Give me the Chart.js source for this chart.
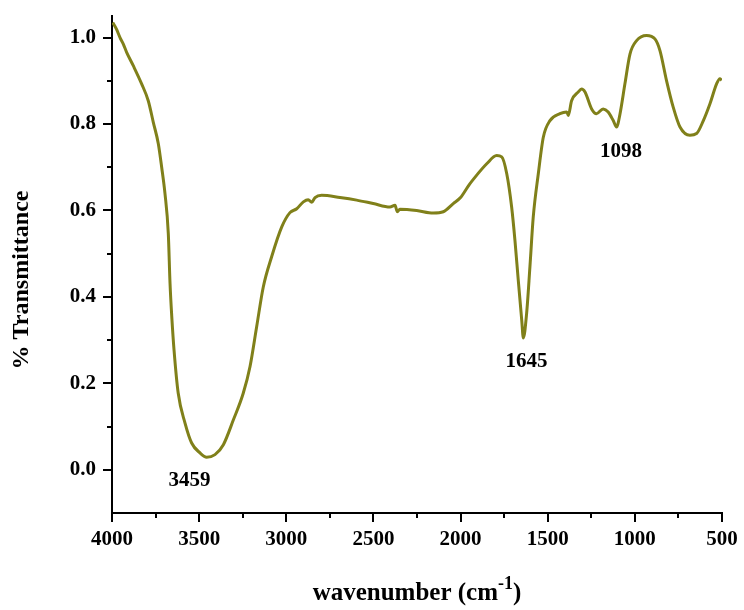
<!DOCTYPE html>
<html>
<head>
<meta charset="utf-8">
<script src="https://cdn.jsdelivr.net/npm/chart.js@4/dist/chart.umd.min.js"></script>
<style>
  body { margin: 0; background: #fff; }
  #wrap { width: 744px; height: 610px; }
</style>
</head>
<body>
<div id="wrap"><canvas id="ftir" width="744" height="610"></canvas></div>
<script>
// FTIR spectrum, values
const wavenumber = [
  3996, 3975, 3954, 3935, 3916, 3878, 3830, 3792, 3763, 3734, 3715, 3696,
  3677, 3667, 3657, 3644, 3620, 3581, 3543, 3495, 3457, 3409, 3361, 3304,
  3247, 3208, 3170, 3132, 3084, 3026, 2979, 2940, 2902, 2874, 2854, 2835,
  2797, 2692, 2596, 2501, 2405, 2376, 2363, 2348, 2252, 2157, 2099, 2042,
  2000, 1950, 1927, 1850, 1793, 1764, 1735, 1707, 1688, 1669, 1649, 1640,
  1621, 1602, 1583, 1554, 1525, 1487, 1430, 1391, 1382, 1363, 1325, 1306,
  1286, 1248, 1220, 1182, 1153, 1124, 1105, 1085, 1057, 1028, 990, 933,
  885, 856, 818, 780, 741, 684, 646, 607, 569, 531, 512, 502
];
const transmittance = [
  1.035, 1.020, 1.000, 0.985, 0.966, 0.935, 0.893, 0.854, 0.804, 0.754, 0.700, 0.639,
  0.547, 0.431, 0.354, 0.277, 0.177, 0.108, 0.062, 0.039, 0.029, 0.035, 0.058, 0.115,
  0.177, 0.239, 0.331, 0.423, 0.493, 0.562, 0.595, 0.604, 0.620, 0.625, 0.619, 0.630,
  0.635, 0.630, 0.624, 0.616, 0.608, 0.612, 0.597, 0.603, 0.600, 0.594, 0.597, 0.616,
  0.630, 0.660, 0.672, 0.708, 0.727, 0.724, 0.685, 0.608, 0.531, 0.439, 0.346, 0.305,
  0.362, 0.470, 0.585, 0.685, 0.770, 0.808, 0.824, 0.828, 0.820, 0.854, 0.874, 0.881,
  0.874, 0.835, 0.824, 0.835, 0.828, 0.808, 0.793, 0.824, 0.893, 0.962, 0.993, 1.005,
  0.997, 0.970, 0.900, 0.839, 0.793, 0.774, 0.778, 0.808, 0.847, 0.893, 0.905, 0.901
];

// tick values (labels only on the major ones)
const xTicks = [4000, 3750, 3500, 3250, 3000, 2750, 2500, 2250, 2000, 1750, 1500, 1250, 1000, 750, 500];
const yTicks = [0.0, 0.1, 0.2, 0.3, 0.4, 0.5, 0.6, 0.7, 0.8, 0.9, 1.0];

// peak labels (text, and where they sit in data units)
const peakLabels = ['3459', '1645', '1098'];
const peakLabelX = [3555, 1622, 1080];
const peakLabelY = [-0.025, 0.25, 0.737];

const xTitle = 'wavenumber (cm';
const xTitleSup = '-1';
const yTitle = '% Transmittance';

const serif = '"Liberation Serif", "Times New Roman", serif';

const isMajorX = (v) => v % 500 === 0;
const isMajorY = (v) => Math.round(v * 10) % 2 === 0;

// draws tick marks (major + minor), axis titles and peak labels
const decorations = {
    id: 'decorations',
    afterDraw(chart) {
        const ctx = chart.ctx;
        const xs = chart.scales.x;
        const ys = chart.scales.y;
        const area = chart.chartArea;

        ctx.save();
        ctx.strokeStyle = '#000';
        ctx.lineWidth = 2;

        xs.ticks.forEach(t => {
            const px = Math.round(xs.getPixelForValue(t.value));
            ctx.beginPath();
            ctx.moveTo(px, area.bottom);
            ctx.lineTo(px, area.bottom + (isMajorX(t.value) ? 9 : 5));
            ctx.stroke();
        });

        ys.ticks.forEach(t => {
            const py = Math.round(ys.getPixelForValue(t.value));
            ctx.beginPath();
            ctx.moveTo(area.left, py);
            ctx.lineTo(area.left - (isMajorY(t.value) ? 9 : 5), py);
            ctx.stroke();
        });

        ctx.fillStyle = '#000';

        // peak labels
        ctx.font = 'bold 21px ' + serif;
        ctx.textAlign = 'center';
        ctx.textBaseline = 'middle';
        peakLabels.forEach((txt, i) => {
            ctx.fillText(txt, xs.getPixelForValue(peakLabelX[i]), ys.getPixelForValue(peakLabelY[i]));
        });

        // x title with superscript
        ctx.textBaseline = 'alphabetic';
        ctx.textAlign = 'left';
        const mainFont = 'bold 25px ' + serif;
        const supFont = 'bold 18px ' + serif;
        ctx.font = mainFont;
        const w1 = ctx.measureText(xTitle).width;
        const w3 = ctx.measureText(')').width;
        ctx.font = supFont;
        const w2 = ctx.measureText(xTitleSup).width;
        const x0 = 417 - (w1 + w2 + w3) / 2;
        const base = 600;
        ctx.font = mainFont;
        ctx.fillText(xTitle, x0, base);
        ctx.font = supFont;
        ctx.fillText(xTitleSup, x0 + w1, base - 11);
        ctx.font = mainFont;
        ctx.fillText(')', x0 + w1 + w2, base);

        // y title
        ctx.translate(22, 280);
        ctx.rotate(-Math.PI / 2);
        ctx.textAlign = 'center';
        ctx.textBaseline = 'middle';
        ctx.font = 'bold 24px ' + serif;
        ctx.fillText(yTitle, 0, 0);

        ctx.restore();
    }
};

const points = wavenumber.map((w, i) => ({ x: w, y: transmittance[i] }));

new Chart(document.getElementById('ftir'), {
    type: 'line',
    data: {
        datasets: [{
            data: points,
            borderColor: '#80801a',
            borderWidth: 3,
            pointRadius: 0,
            fill: false,
            cubicInterpolationMode: 'monotone'
        }]
    },
    options: {
        responsive: false,
        animation: false,
        events: [],
        layout: {
            padding: { top: 16, right: 22, left: 0, bottom: 0 }
        },
        plugins: {
            legend: { display: false },
            tooltip: { enabled: false }
        },
        scales: {
            x: {
                type: 'linear',
                reverse: true,
                min: 500,
                max: 4000,
                afterBuildTicks: (scale) => { scale.ticks = xTicks.map(v => ({ value: v })); },
                afterFit: (scale) => {
                    scale.height = 97;
                    scale.paddingLeft = 0;
                    scale.paddingRight = 0;
                },
                border: { display: true, color: '#000', width: 2 },
                grid: { display: true, drawOnChartArea: false, drawTicks: false },
                ticks: {
                    autoSkip: false,
                    maxRotation: 0,
                    padding: 14,
                    color: '#000',
                    font: { family: serif, size: 21, weight: 'bold' },
                    callback: (v) => (isMajorX(v) ? String(v) : '')
                }
            },
            y: {
                type: 'linear',
                min: -0.1,
                max: 1.05,
                afterBuildTicks: (scale) => { scale.ticks = yTicks.map(v => ({ value: v })); },
                afterFit: (scale) => {
                    scale.width = 112;
                    scale.paddingTop = 0;
                    scale.paddingBottom = 0;
                },
                border: { display: true, color: '#000', width: 2 },
                grid: { display: true, drawOnChartArea: false, drawTicks: false },
                ticks: {
                    autoSkip: false,
                    padding: 16,
                    color: '#000',
                    font: { family: serif, size: 21, weight: 'bold' },
                    callback: (v) => (isMajorY(v) ? v.toFixed(1) : '')
                }
            }
        }
    },
    plugins: [decorations]
});
</script>
</body>
</html>
